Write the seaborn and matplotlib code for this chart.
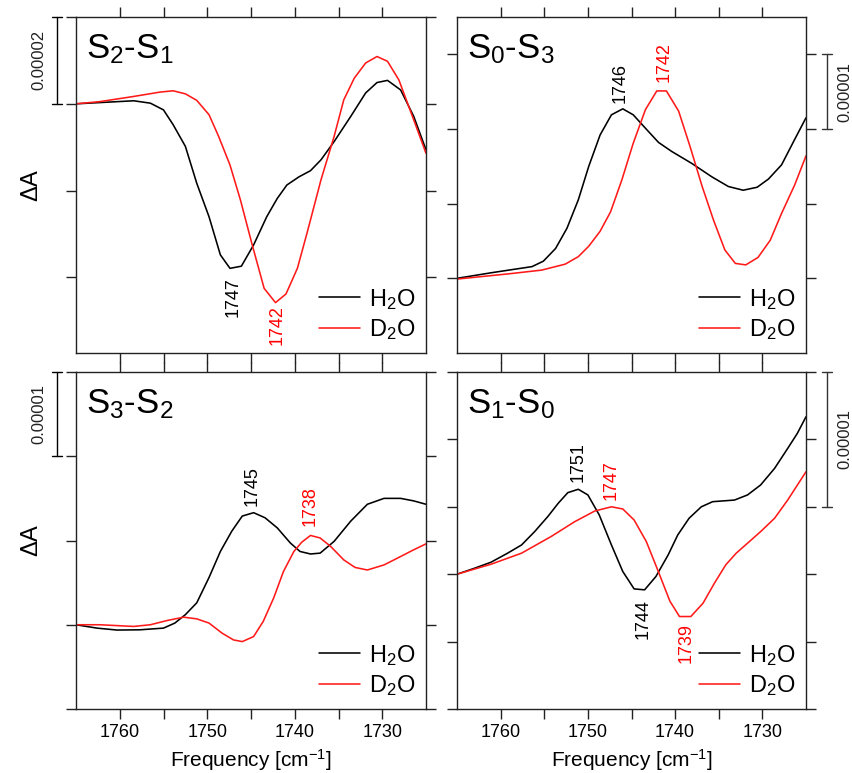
import numpy as np
import pandas as pd
import matplotlib
matplotlib.use("Agg")
import matplotlib.pyplot as plt
import seaborn as sns

sns.set_theme(style="ticks")
plt.rcParams["font.family"] = ["Liberation Sans", "DejaVu Sans"]
plt.rcParams["mathtext.fontset"] = "custom"
plt.rcParams["mathtext.rm"] = "Liberation Sans"
plt.rcParams["mathtext.it"] = "Liberation Sans:italic"
plt.rcParams["mathtext.bf"] = "Liberation Sans:bold"
plt.rcParams["text.color"] = "black"
plt.rcParams["axes.labelcolor"] = "black"
plt.rcParams["xtick.labelcolor"] = "black"
plt.rcParams["ytick.labelcolor"] = "black"

# ---------------- data (delta A in units of 1e-5) ----------------
# S2-S1
s21_h2o_x = [1765, 1758.4, 1756.5, 1755, 1753.9, 1752.5, 1751.2, 1749.8, 1748.5, 1747.4, 1746.1, 1744.7,
             1743.2, 1742, 1740.9, 1739.5, 1738.2, 1737, 1735.5, 1733.6, 1731.9, 1730.6, 1729.4, 1727.9,
             1726.4, 1725]
s21_h2o_y = [0, 0.07, 0.015, -0.14, -0.48, -0.98, -1.83, -2.6, -3.48, -3.79, -3.74, -3.25,
             -2.6, -2.18, -1.87, -1.68, -1.54, -1.29, -0.87, -0.29, 0.25, 0.49, 0.54, 0.32,
             -0.29, -1.06]
s21_d2o_x = [1765, 1762.3, 1758.4, 1755.4, 1753.9, 1752.5, 1751.2, 1749.8, 1748.7, 1747.4, 1746.2, 1744.9,
             1743.5, 1742.2, 1741, 1739.7, 1738.6, 1737, 1735.5, 1734.4, 1733.2, 1731.9, 1730.6, 1729.4,
             1728.1, 1726.4, 1725]
s21_d2o_y = [0, 0.05, 0.17, 0.27, 0.3, 0.23, 0.08, -0.25, -0.75, -1.41, -2.22, -3.22,
             -4.25, -4.58, -4.38, -3.79, -2.98, -1.75, -0.75, 0.09, 0.59, 0.94, 1.09, 0.98,
             0.55, -0.37, -1.14]

# S0-S3
s03_h2o_x = [1765, 1761, 1756.4, 1755.1, 1753.7, 1752.4, 1751.1, 1749.9, 1748.6, 1747.3, 1746.0, 1744.8,
             1743.4, 1741.9, 1740.4, 1738.1, 1735.8, 1733.9, 1732.2, 1730.6, 1729.3, 1727.8, 1726.3, 1725]
s03_h2o_y = [0, 0.076, 0.157, 0.23, 0.40, 0.67, 1.05, 1.50, 1.92, 2.19, 2.27, 2.19,
             2.01, 1.82, 1.70, 1.54, 1.36, 1.23, 1.18, 1.22, 1.33, 1.52, 1.86, 2.15]
s03_d2o_x = [1765, 1759.1, 1755.3, 1752.6, 1751.1, 1749.9, 1748.6, 1747.4, 1746.1, 1744.8, 1743.4, 1742.1,
             1741, 1739.6, 1738.3, 1736.9, 1735.6, 1734.3, 1733.1, 1731.9, 1730.5, 1729.1, 1727.8, 1726.3, 1725]
s03_d2o_y = [-0.01, 0.06, 0.11, 0.19, 0.29, 0.43, 0.63, 0.89, 1.32, 1.81, 2.26, 2.51,
             2.51, 2.24, 1.77, 1.23, 0.78, 0.38, 0.20, 0.18, 0.28, 0.51, 0.87, 1.25, 1.64]

# S3-S2
s32_h2o_x = [1765, 1762.6, 1760.3, 1757.7, 1755, 1753.7, 1752.5, 1751.2, 1749.8, 1748.5, 1747.2, 1746,
             1744.7, 1743.4, 1742, 1740.5, 1739.4, 1738.2, 1737.1, 1735.5, 1733.6, 1731.7, 1729.8, 1727.9,
             1726.4, 1725]
s32_h2o_y = [0, -0.04, -0.063, -0.06, -0.04, 0.02, 0.12, 0.26, 0.56, 0.87, 1.11, 1.29,
             1.33, 1.27, 1.15, 0.97, 0.87, 0.84, 0.85, 0.99, 1.23, 1.43, 1.50, 1.50,
             1.47, 1.43]
s32_d2o_x = [1765, 1762.3, 1758.4, 1756.5, 1754.6, 1752.7, 1751.2, 1749.8, 1748.3, 1747, 1746, 1744.7,
             1743.6, 1742.4, 1741.3, 1740.1, 1739.2, 1738.2, 1737.1, 1735.9, 1734.4, 1733.1, 1731.7, 1729.8,
             1727.9, 1726.4, 1725]
s32_d2o_y = [0, 0, -0.02, 0, 0.05, 0.09, 0.07, 0.02, -0.1, -0.18, -0.2, -0.14,
             0.04, 0.32, 0.63, 0.87, 0.98, 1.06, 1.03, 0.93, 0.77, 0.68, 0.65, 0.71,
             0.81, 0.89, 0.96]

# S1-S0
s10_h2o_x = [1765, 1763, 1761.1, 1759.2, 1757.6, 1756.1, 1754.6, 1753.4, 1752.3, 1751.1, 1750, 1748.7,
             1747.3, 1746, 1744.7, 1743.5, 1742.2, 1740.8, 1739.7, 1738.4, 1737, 1735.7, 1733.2, 1731.7,
             1730.2, 1728.6, 1727.1, 1726, 1725]
s10_h2o_y = [0, 0.044, 0.089, 0.156, 0.217, 0.316, 0.427, 0.526, 0.605, 0.63, 0.588, 0.44,
             0.217, 0.02, -0.109, -0.116, -0.017, 0.143, 0.291, 0.415, 0.5, 0.538, 0.55, 0.588,
             0.662, 0.785, 0.933, 1.044, 1.168]
s10_d2o_x = [1765, 1761.1, 1757.6, 1754.2, 1751.5, 1749.2, 1747.3, 1746, 1744.7, 1743.3, 1742, 1740.6,
             1739.5, 1738.2, 1736.8, 1735.5, 1734.2, 1733, 1731.7, 1730.2, 1728.6, 1727.1, 1726, 1725]
s10_d2o_y = [0, 0.074, 0.156, 0.28, 0.39, 0.469, 0.5, 0.484, 0.402, 0.242, 0.032, -0.2,
             -0.314, -0.314, -0.215, -0.067, 0.069, 0.156, 0.23, 0.316, 0.415, 0.55, 0.66, 0.76]

titles = [r"S$_\mathrm{2}$-S$_\mathrm{1}$", r"S$_\mathrm{0}$-S$_\mathrm{3}$",
          r"S$_\mathrm{3}$-S$_\mathrm{2}$", r"S$_\mathrm{1}$-S$_\mathrm{0}$"]
series_labels = [r"H$_\mathrm{2}$O", r"D$_\mathrm{2}$O"]
scale_labels = ["0.00002", "0.00001", "0.00001", "0.00001"]

# peak annotations: (text, x, y, color)
s21_ann = [("1747", 1747.0, -4.45, "black"), ("1742", 1742.0, -5.1, "red")]
s03_ann = [("1746", 1746.3, 2.62, "black"), ("1742", 1741.3, 2.89, "red")]
s32_ann = [("1745", 1744.9, 1.65, "black"), ("1738", 1738.2, 1.41, "red")]
s10_ann = [("1751", 1751.1, 0.835, "black"), ("1747", 1747.3, 0.70, "red"),
           ("1744", 1743.7, -0.33, "black"), ("1739", 1738.7, -0.51, "red")]

# ---------------- layout ----------------
W, H = 853, 773
fig = plt.figure(figsize=(W / 100, H / 100), dpi=100)

def px_axes(l, t, r, b):
    return fig.add_axes([l / W, 1 - b / H, (r - l) / W, (b - t) / H])

axes = [px_axes(76, 17, 426, 353), px_axes(457, 17, 806, 353),
        px_axes(76, 372, 426, 709), px_axes(457, 372, 806, 709)]

panels = [
    (s21_h2o_x, s21_h2o_y, s21_d2o_x, s21_d2o_y, s21_ann, (-5.74, 2.0), [-4, -2, 0, 2], (0, 2), "left"),
    (s03_h2o_x, s03_h2o_y, s03_d2o_x, s03_d2o_y, s03_ann, (-1.0, 3.5), [0, 1, 2, 3], (2, 3), "right"),
    (s32_h2o_x, s32_h2o_y, s32_d2o_x, s32_d2o_y, s32_ann, (-1.0, 3.0), [-1, 0, 1, 2, 3], (2, 3), "left"),
    (s10_h2o_x, s10_h2o_y, s10_d2o_x, s10_d2o_y, s10_ann, (-1.0, 1.5), [-1, -0.5, 0, 0.5, 1, 1.5], (0.5, 1.5), "right"),
]

for i, (ax, p) in enumerate(zip(axes, panels)):
    hx, hy, dx, dy, ann, ylim, yticks, sbar, side = p
    df_h = pd.DataFrame({"f": hx, "dA": hy})
    df_d = pd.DataFrame({"f": dx, "dA": dy})
    sns.lineplot(data=df_h, x="f", y="dA", ax=ax, color="black", lw=1.15, label=series_labels[0])
    sns.lineplot(data=df_d, x="f", y="dA", ax=ax, color="#ff1a1a", lw=1.15, label=series_labels[1])
    ax.set_xlim(1765, 1725)
    ax.set_ylim(*ylim)
    ax.set_xticks([1760, 1755, 1750, 1745, 1740, 1735, 1730])
    ax.set_yticks(yticks)
    ax.set_yticklabels([])
    ax.tick_params(axis="both", direction="out", length=7, width=1.0, color="#222222",
                   top=True, right=True, labelsize=13, pad=4, labelcolor="black")
    for s in ax.spines.values():
        s.set_color("#222222")
        s.set_linewidth(1.0)
    if i >= 2:
        ax.set_xticklabels(["1760", "", "1750", "", "1740", "", "1730"])
        ax.set_xlabel(r"Frequency [cm$^\mathrm{-1}$]", fontsize=15, labelpad=4, color="black")
    else:
        ax.set_xticklabels([])
        ax.set_xlabel("")
    if i % 2 == 0:
        ax.set_ylabel(r"$\Delta$A", fontsize=17, labelpad=13, color="black")
    else:
        ax.set_ylabel("")
    ax.text(0.029, 0.955, titles[i], transform=ax.transAxes, fontsize=25, va="top", ha="left",
            color="black")
    for txt, x, y, c in ann:
        ax.text(x, y, txt, color=c, fontsize=13, rotation=90, ha="center", va="center")
    leg = ax.legend(loc="lower right", frameon=False, fontsize=17, handlelength=1.7, handletextpad=0.4,
                    labelspacing=0.25, borderaxespad=0.25, borderpad=0.2)
    for t in leg.get_texts():
        t.set_color("black")
    # scale bar
    tr = matplotlib.transforms.blended_transform_factory(ax.transAxes, ax.transData)
    if side == "left":
        bx, c0, c1, lx = -0.055, -0.069, -0.04, -0.106
        col = "black"
    else:
        bx, c0, c1, lx = 1.06, 1.045, 1.075, 1.11
        col = "#333333"
    y0, y1 = sbar
    ax.plot([bx, bx], [y0, y1], transform=tr, color=col, lw=1.0, clip_on=False)
    ax.plot([c0, c1], [y0, y0], transform=tr, color=col, lw=1.0, clip_on=False)
    ax.plot([c0, c1], [y1, y1], transform=tr, color=col, lw=1.0, clip_on=False)
    ax.text(lx, (y0 + y1) / 2, scale_labels[i], transform=tr, rotation=90, fontsize=12,
            ha="center", va="center", color="#222222")

fig.savefig("out.png", dpi=100)
